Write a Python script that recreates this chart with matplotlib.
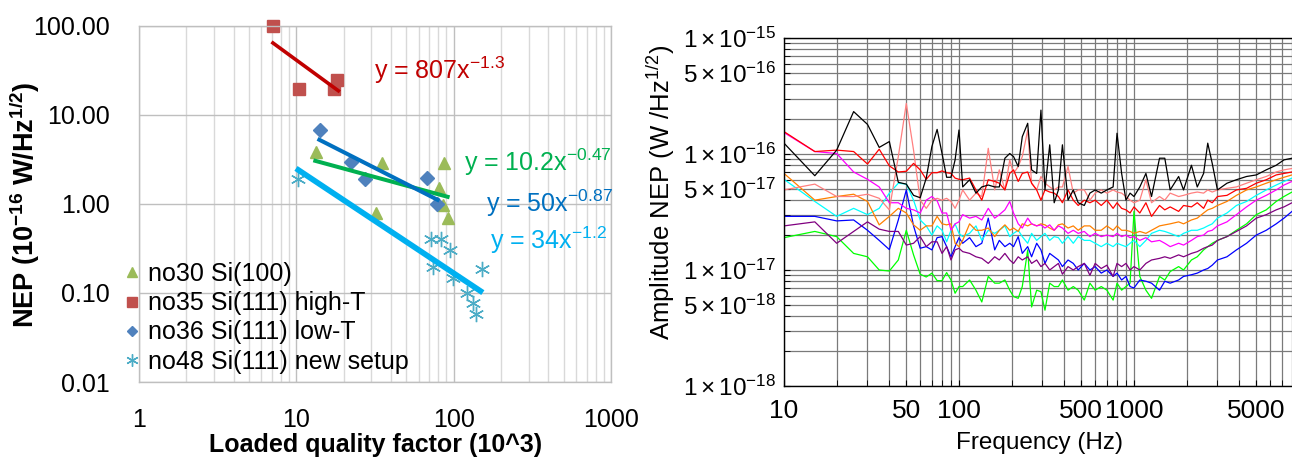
import matplotlib
matplotlib.use("Agg")
import matplotlib.pyplot as plt
from matplotlib.ticker import FixedLocator, NullFormatter
import numpy as np

plt.rcParams['font.family'] = ['Liberation Sans', 'DejaVu Sans']
plt.rcParams['mathtext.fontset'] = 'custom'
plt.rcParams['mathtext.rm'] = 'Liberation Sans'
plt.rcParams['mathtext.it'] = 'Liberation Sans:italic'
plt.rcParams['mathtext.bf'] = 'Liberation Sans:bold'

# ---- left panel: NEP vs loaded Q (x in 10^3, y in 1e-16 W/Hz^1/2)
q30 = [13.4, 32, 35, 80.4, 85, 86.6, 91.5]
nep30 = [3.84, 0.79, 2.89, 1.51, 0.97, 2.89, 0.70]
q35 = [7.15, 10.4, 17.4, 18.2]
nep35 = [100, 19.6, 19.6, 24.7]
q36 = [14.2, 22.3, 27.3, 67.4, 78]
nep36 = [6.8, 2.96, 1.91, 1.96, 1.0]
q48 = [10.3, 71.6, 73.7, 82.6, 94.3, 98.6, 121, 132, 139, 152]
nep48 = [1.91, 0.40, 0.196, 0.40, 0.30, 0.148, 0.10, 0.077, 0.058, 0.186]

# trendline end points
fit30_q, fit30_nep = [13.2, 91.5], [3.04, 1.2]
fit35_q, fit35_nep = [7.1, 18.5], [64, 18.6]
fit36_q, fit36_nep = [14, 79], [5.24, 1.11]
fit48_q, fit48_nep = [10.3, 148], [2.4, 0.105]

legend_labels = ['no30 Si(100)', 'no35 Si(111) high-T', 'no36 Si(111) low-T', 'no48 Si(111) new setup']
eq_labels = [r'y = 807x$^{\mathregular{-1.3}}$', r'y = 10.2x$^{\mathregular{-0.47}}$',
             r'y = 50x$^{\mathregular{-0.87}}$', r'y = 34x$^{\mathregular{-1.2}}$']

# ---- right panel: amplitude NEP spectra (values in 1e-17 W/Hz^1/2)
freq_hz = [10, 15, 20, 25, 30, 35, 40, 45, 50, 55, 60, 65, 70, 75, 80, 85, 90, 95, 100,
           105, 115, 125, 135, 147, 160, 170, 183, 195, 205, 218, 230, 247, 260, 278, 294, 310, 330,
           350, 370, 390, 420, 450, 480, 520, 560, 600, 650, 700, 760, 800, 850, 900, 950,
           1000, 1080, 1170, 1260, 1400, 1500, 1610, 1800, 1920, 2130, 2300, 2500, 2640, 2800,
           3000, 3400, 3850, 4400, 5000, 5700, 6500, 7200, 8000]

nep_black = [12.4, 6.5, 10.8, 23.2, 18.0, 11.4, 12.8, 5.7, 5.5, 4.4, 4.2, 6.2, 11.6, 16.3, 10.1, 6.3, 6.3, 8.9, 16.1,
             5.2, 6.0, 4.6, 5.2, 5.4, 5.2, 5.2, 9.2, 10.1, 9.5, 7.8, 14.1, 18.4, 7.3, 6.8, 23.9, 4.9, 12.0,
             3.8, 4.9, 12.0, 4.0, 4.9, 3.8, 3.6, 4.6, 4.9, 4.6, 4.9, 5.2, 15.1, 6.8, 4.0, 4.6,
             4.3, 5.2, 6.8, 4.3, 9.2, 9.2, 4.9, 6.4, 4.9, 8.0, 5.2, 6.8, 12.4, 8.3,
             4.9, 5.6, 6.0, 6.4, 6.6, 7.3, 8.0, 8.9, 9.2]
nep_red = [15.6, 10.5, 10.8, 10.5, 8.2, 11.0, 7.9, 7.0, 7.1, 8.3, 7.3, 6.05, 6.9, 6.9, 7.15, 6.9, 6.8, 6.2, 6.05,
           6.0, 6.2, 4.9, 4.0, 6.0, 5.8, 5.6, 4.9, 6.8, 7.3, 5.8, 6.8, 7.0, 5.6, 4.9, 4.0, 4.9, 4.7,
           4.6, 4.3, 3.8, 4.9, 4.0, 3.6, 4.0, 3.8, 4.0, 3.6, 4.0, 3.4, 3.8, 3.4, 3.3, 3.1,
           3.5, 3.1, 3.8, 2.9, 3.6, 3.3, 3.5, 3.2, 3.6, 3.5, 3.8, 3.4, 4.0, 3.8,
           4.3, 4.4, 4.9, 5.06, 5.6, 6.0, 6.6, 6.8, 7.0]
nep_salmon = [4.9, 5.5, 4.3, 4.3, 4.5, 4.15, 3.3, 9.5, 27.3, 10.8, 4.0, 3.4, 4.0, 4.15, 4.0, 4.15, 3.9, 3.4, 4.0,
              4.9, 4.0, 4.6, 4.3, 11.2, 4.9, 7.3, 4.9, 8.9, 6.8, 7.8, 9.5, 16.1, 5.6, 4.9, 6.4, 5.6, 5.2,
              4.9, 5.2, 5.2, 7.8, 4.6, 4.9, 4.9, 4.0, 4.6, 4.9, 4.6, 4.9, 4.7, 4.6, 4.3, 4.0,
              3.8, 4.0, 6.0, 3.8, 4.3, 4.0, 4.6, 4.3, 4.4, 4.6, 4.7, 4.6, 4.9, 4.7,
              4.9, 5.06, 5.2, 5.6, 6.0, 6.4, 7.0, 7.3, 7.5]
nep_magenta = [15.3, 10.5, 10.1, 7.0, 6.05, 5.2, 3.8, 3.8, 3.4, 3.3, 3.1, 4.0, 4.3, 3.95, 3.1, 3.1, 2.2, 2.5, 2.6,
               3.0, 2.8, 2.9, 2.7, 3.4, 2.8, 3.0, 3.3, 3.9, 3.1, 2.5, 2.3, 2.8, 2.5, 2.4, 2.45, 2.3, 2.45,
               2.2, 2.4, 2.3, 2.07, 2.2, 2.07, 2.15, 1.94, 2.07, 1.94, 2.0, 1.94, 2.07, 1.94, 2.0, 1.9,
               1.94, 1.8, 1.9, 1.75, 1.8, 1.7, 1.59, 1.7, 1.64, 1.8, 1.94, 2.0, 2.15, 2.2,
               2.4, 2.6, 3.0, 3.5, 4.0, 4.4, 4.9, 5.4, 5.8]
nep_orange = [6.8, 4.0, 4.3, 4.5, 3.9, 2.45, 2.9, 3.4, 3.1, 2.45, 2.2, 2.4, 2.4, 2.9, 2.5, 2.45, 2.5, 1.7, 1.59,
              1.8, 2.5, 2.2, 2.2, 2.3, 1.94, 2.2, 2.45, 2.2, 2.3, 2.15, 2.5, 2.4, 2.5, 2.4, 2.5, 2.45, 2.3,
              2.2, 2.45, 2.5, 2.3, 2.4, 2.2, 2.4, 2.4, 2.2, 2.2, 2.4, 2.2, 2.4, 2.2, 2.2, 2.15,
              2.07, 2.15, 2.07, 2.2, 2.4, 2.45, 2.5, 2.6, 2.5, 2.7, 2.8, 3.1, 3.3, 3.4,
              3.6, 3.9, 4.4, 4.9, 5.2, 5.6, 6.0, 6.3, 6.6]
nep_cyan = [6.05, 3.9, 2.9, 3.4, 3.0, 3.4, 4.6, 5.6, 5.5, 4.0, 2.7, 2.4, 2.0, 2.4, 2.2, 1.75, 2.2, 2.5, 2.07,
            1.94, 2.07, 2.4, 1.8, 2.2, 2.07, 2.2, 2.4, 1.94, 2.07, 2.2, 1.94, 1.7, 2.07, 1.8, 1.94, 2.07, 1.8,
            1.94, 1.9, 1.7, 1.94, 1.7, 1.94, 1.8, 1.8, 1.7, 1.59, 1.7, 1.59, 1.7, 1.64, 1.59, 1.7,
            1.8, 1.59, 1.8, 2.07, 2.2, 2.15, 2.07, 1.94, 2.07, 2.2, 2.2, 2.3, 2.4, 2.5,
            2.8, 3.1, 3.6, 3.9, 4.4, 4.9, 5.4, 5.8, 6.2]
nep_blue = [2.9, 2.9, 2.65, 2.7, 2.2, 1.8, 1.5, 2.7, 4.9, 2.4, 1.54, 1.59, 1.49, 1.9, 1.94, 1.59, 1.30, 1.59, 1.9,
            1.7, 1.9, 1.59, 1.7, 2.8, 1.49, 1.8, 1.59, 1.7, 1.59, 1.94, 1.39, 1.59, 1.30, 1.7, 1.49, 1.14, 1.39,
            1.30, 1.22, 1.07, 1.22, 1.14, 1.0, 1.14, 1.0, 1.07, 0.94, 1.0, 0.88, 0.94, 0.82, 0.88, 0.72,
            0.70, 0.82, 0.80, 0.77, 0.67, 0.80, 0.77, 0.82, 0.88, 0.91, 0.94, 1.0, 1.03, 1.10,
            1.22, 1.30, 1.49, 1.7, 2.0, 2.2, 2.5, 2.8, 3.2]
nep_purple = [2.4, 2.6, 1.7, 2.15, 2.6, 2.25, 2.15, 2.15, 1.64, 1.7, 1.94, 1.59, 1.75, 1.75, 1.39, 1.59, 1.22, 1.49, 1.54,
              1.44, 1.39, 1.30, 1.26, 1.14, 1.30, 1.22, 1.39, 1.22, 1.14, 1.30, 1.22, 1.30, 1.14, 1.22, 1.07, 1.14, 1.0,
              1.07, 1.14, 0.92, 1.07, 1.0, 1.07, 1.14, 0.90, 1.14, 1.03, 1.10, 0.88, 1.14, 1.07, 1.14, 1.0,
              1.07, 1.0, 1.14, 1.22, 1.26, 1.30, 1.26, 1.35, 1.30, 1.39, 1.44, 1.54, 1.59, 1.64,
              1.8, 1.94, 2.15, 2.4, 2.8, 3.0, 3.3, 3.5, 3.8]
nep_green = [1.9, 2.15, 1.94, 1.39, 1.30, 1.0, 0.98, 1.22, 2.2, 1.35, 0.92, 0.87, 0.94, 0.81, 0.81, 0.95, 0.82, 0.63, 0.72,
             0.72, 0.82, 0.67, 0.53, 0.88, 0.77, 0.77, 0.82, 0.67, 0.59, 0.57, 0.72, 1.49, 0.48, 0.67, 0.65, 0.45, 0.77,
             0.72, 0.72, 0.82, 0.67, 0.72, 0.67, 0.55, 0.77, 0.67, 0.72, 0.67, 0.55, 0.77, 0.67, 0.72, 0.77,
             3.2, 0.88, 0.67, 0.57, 0.88, 0.82, 0.97, 1.07, 1.0, 1.22, 1.30, 1.49, 1.59, 1.7,
             1.8, 1.94, 2.2, 2.5, 3.0, 3.3, 3.9, 4.3, 4.7]

spectra = [(nep_green, '#00FF00'), (nep_blue, '#0000FF'), (nep_purple, '#800080'),
           (nep_cyan, '#00FFFF'), (nep_orange, '#FF8000'), (nep_magenta, '#FF00FF'),
           (nep_salmon, '#FF8080'), (nep_red, '#FF0000'), (nep_black, '#000000')]

W, H = 1292, 459
fig = plt.figure(figsize=(W / 100, H / 100), dpi=100)


def fx(x):
    return x / W


def fy(y):
    return 1 - y / H


# ================= left panel =================
ax1 = fig.add_axes([fx(139), fy(382), fx(611) - fx(139), fy(25.7) - fy(382)])
ax1.set_xscale('log')
ax1.set_yscale('log')
ax1.set_xlim(1, 1000)
ax1.set_ylim(0.01, 100)

ax1.xaxis.set_major_locator(FixedLocator([1, 10, 100, 1000]))
ax1.set_xticklabels(['1', '10', '100', '1000'])
ax1.yaxis.set_major_locator(FixedLocator([0.01, 0.1, 1, 10, 100]))
ax1.set_yticklabels(['0.01', '0.10', '1.00', '10.00', '100.00'])
ax1.yaxis.set_minor_formatter(NullFormatter())
ax1.xaxis.set_minor_formatter(NullFormatter())
ax1.tick_params(which='both', length=0, labelsize=18)
ax1.tick_params(axis='y', pad=21)
ax1.tick_params(axis='x', pad=19)
ax1.grid(which='major', axis='both', color='#BFBFBF', lw=1.0)
ax1.grid(which='minor', axis='x', color='#D9D9D9', lw=1.0)
ax1.set_axisbelow(True)
for s in ax1.spines.values():
    s.set_color('#BFBFBF')
    s.set_linewidth(1.0)

h30, = ax1.plot(q30, nep30, ls='none', marker='^', ms=9, color='#9BBB59', mec='#9BBB59', clip_on=False)
h35, = ax1.plot(q35, nep35, ls='none', marker='s', ms=9, color='#C0504D', mec='#C0504D', clip_on=False)
h36, = ax1.plot(q36, nep36, ls='none', marker='D', ms=7, color='#4F81BD', mec='#4F81BD', clip_on=False)
h48, = ax1.plot(q48, nep48, ls='none', marker=(6, 2, 0), ms=11, mew=1.0, color='#4BACC6',
                mec='#4BACC6', clip_on=False)

ax1.plot(fit35_q, fit35_nep, color='#C00000', lw=2.6)
ax1.plot(fit30_q, fit30_nep, color='#00B050', lw=2.9)
ax1.plot(fit36_q, fit36_nep, color='#0070C0', lw=2.9)
ax1.plot(fit48_q, fit48_nep, color='#00B0F0', lw=4.1)

fig.text(fx(374), fy(70), eq_labels[0], color='#C00000', fontsize=18, va='center')
fig.text(fx(464), fy(162), eq_labels[1], color='#00B050', fontsize=18, va='center')
fig.text(fx(486), fy(203), eq_labels[2], color='#0070C0', fontsize=18, va='center')
fig.text(fx(490), fy(240), eq_labels[3], color='#00B0F0', fontsize=18, va='center')

fig.legend([h30, h35, h36, h48], legend_labels, loc='upper left',
           bbox_to_anchor=(fx(124), fy(262)), frameon=False, fontsize=18,
           handlelength=0.6, handletextpad=0.35, labelspacing=0.21,
           borderpad=0, borderaxespad=0, markerscale=0.8)

fig.text(fx(25), fy(205), r'NEP (10$^{\mathbf{-16}}$ W/Hz$^{\mathbf{1/2}}$)', rotation=90,
         fontsize=19.5, fontweight='bold', ha='center', va='center')
fig.text(fx(376), fy(445), 'Loaded quality factor (10^3)', fontsize=18, fontweight='bold',
         ha='center', va='center')

# ================= right panel =================
ax2 = fig.add_axes([fx(784), fy(386), 1 - fx(784), fy(38) - fy(386)])
ax2.set_xscale('log')
ax2.set_yscale('log')
for vals, col in spectra:
    ax2.plot(freq_hz, np.array(vals) * 1e-17, color=col, lw=0.9)
ax2.set_xlim(10, 8000)
ax2.set_ylim(1e-18, 1e-15)

ax2.xaxis.set_major_locator(FixedLocator([10, 50, 100, 500, 1000, 5000]))
ax2.set_xticklabels(['10', '50', '100', '500', '1000', '5000'])
ax2.xaxis.set_minor_formatter(NullFormatter())
yt = [1e-15, 5e-16, 1e-16, 5e-17, 1e-17, 5e-18, 1e-18]
ax2.yaxis.set_major_locator(FixedLocator(yt))
ax2.set_yticklabels([r'$1\times10^{-15}$', r'$5\times10^{-16}$', r'$1\times10^{-16}$',
                     r'$5\times10^{-17}$', r'$1\times10^{-17}$', r'$5\times10^{-18}$',
                     r'$1\times10^{-18}$'])
ax2.yaxis.set_minor_formatter(NullFormatter())
ax2.tick_params(which='both', direction='in', length=4)
ax2.tick_params(axis='y', pad=6, labelsize=17.5)
ax2.tick_params(axis='x', pad=9, labelsize=19)
ax2.grid(which='both', color='#7A7A7A', lw=0.9)
ax2.set_axisbelow(True)
for s in ax2.spines.values():
    s.set_color('black')
    s.set_linewidth(1.0)
ax2.spines['right'].set_visible(False)

fig.text(fx(661), fy(192), r'Amplitude NEP (W /Hz$^{1/2}$)', rotation=90, fontsize=18.5,
         ha='center', va='center')
fig.text(fx(1040), fy(443), 'Frequency (Hz)', fontsize=17.5, ha='center', va='center')

fig.savefig('out.png', dpi=100, facecolor='white')
